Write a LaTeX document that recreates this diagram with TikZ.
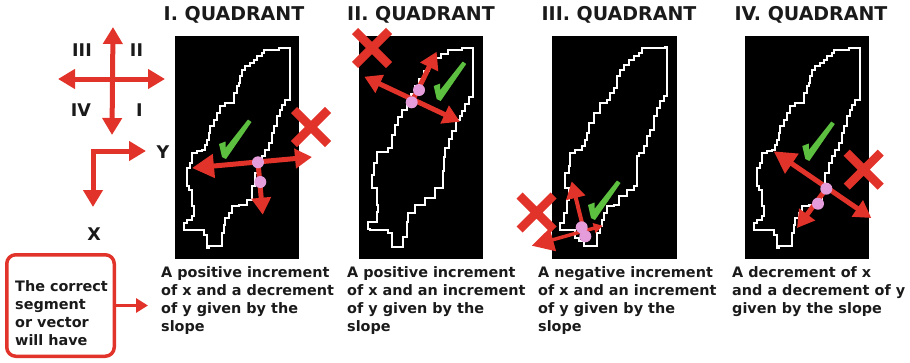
\documentclass[tikz,border=0pt]{standalone}
\usepackage{fontspec}
\setmainfont{DejaVu Sans}
\usepackage{tikz}
\usetikzlibrary{arrows.meta}

\definecolor{vecred}{HTML}{E2332A}
\definecolor{okgreen}{HTML}{5CBF3F}
\definecolor{dotpink}{HTML}{E49CDB}
\definecolor{ink}{HTML}{1A1A1A}

\tikzset{
  Head/.tip={Triangle[length=17pt,width=19pt]},
  BigHead/.tip={Triangle[length=22pt,width=23pt]},
  SmallHead/.tip={Triangle[length=9pt,width=10pt]},
  NoteHead/.tip={Triangle[length=12pt,width=14pt]},
  vec/.style={vecred, line width=5pt},
  dot/.style={circle, fill=dotpink, minimum size=12pt, inner sep=0pt},
  cell/.style={fill=black},
  rim/.style={white, line width=1.8pt, line join=miter},
  title/.style={font=\fontsize{19}{23}\selectfont\bfseries, text=ink, anchor=base, inner sep=0pt},
  caption/.style={font=\fontsize{14.4}{18}\selectfont\bfseries, text=ink, align=left, anchor=north west, inner sep=0pt},
  axislabel/.style={font=\fontsize{17.5}{20}\selectfont\bfseries, text=ink},
  notebox/.style={draw=vecred, line width=3.5pt, rounded corners=9pt, minimum width=107.5pt, minimum height=101.5pt},
  % red cross and green tick
  wrongmark/.pic={\draw[vecred, line width=8.5pt] (-17,-17) -- (17,17) (-17,17) -- (17,-17);},
  okmark/.pic={\fill[okgreen] (-1,2) -- (24.5,-35) -- (21,-37.5) -- (-1.5,-9) -- (-1.5,-15.5) -- (-8,-13) -- (-5,0) -- cycle;},
  % the three outlines, corner of the frame at (0,0)
  blobA/.pic={\draw[rim] (88.7,13.7) \foreach \p in {(103.7,12),(113.7,12),(115.3,63.7),(110.3,68.7),(107,73.7),(105.3,80.3),(102,90.3),(98.7,97),(97,107),(93.7,113.7),(90.3,120.3),(87,127),(83.7,137),(80.3,150.3),(77,163.7),(72,168.7),(63.7,170.3),(57,177),(53.7,182),(50.3,188.7),(48.7,197),(47,210.3),(33.7,212),(32,198.7),(28.7,193.7),(10.3,193.7),(8.7,187),(12,183.7),(17,180.3),(18.7,170.3),(17,153.7),(13.7,150.3),(12,143.7),(12,132),(15.3,127),(17,117),(22,115.3),(27,113.7),(30.3,108.7),(32,103.7),(33.7,97),(35.3,90.3),(38.7,83.7),(42,77),(45.3,70.3),(50.3,67),(55.3,67),(58.7,60.3),(58.7,57),(62,50.3),(63.7,47),(65.3,40.3),(67,33.7),(70.3,30.3),(75.3,27),(78.7,23.7),(82,20.3),(87,17),(88.7,13.7)} { -| \p } -- cycle;},
  blobB/.pic={\draw[rim] (89.3,14) \foreach \p in {(102.7,12.3),(114.3,12.3),(114.3,60.7),(110,68),(106,75),(103,80),(101,84),(97,95),(93,103),(90,112),(86,120.7),(85,135),(84.3,152.3),(76,162.3),(66,169),(56,177.3),(49.3,185.7),(47.7,200.7),(44.3,210.7),(34.3,210.7),(32.7,197.3),(29.3,194),(11,193),(9.3,185.7),(17.7,175.7),(19.3,169),(17.7,152.3),(12.7,147.3),(12.7,139),(15,127),(17.7,115.7),(29.3,112.3),(32.7,99),(36,89),(39.3,80.7),(43,74),(47.7,67.3),(52,58),(56,50),(60,43),(65,35),(70,28),(76,22),(82,18),(89.3,14)} { -| \p } -- cycle;},
  blobC/.pic={\draw[rim] (90,12) \foreach \p in {(113.3,11),(115,60.3),(111.7,65.3),(108.3,72),(105,80.3),(101.7,93.7),(98.3,100.3),(95,110.3),(91.7,117),(86.7,120.3),(85,150.3),(81.7,153.7),(75,160.3),(66.7,168.7),(61.7,170.3),(55,177),(51.7,183.7),(50,190.3),(48.3,197),(45,202),(45,210.3),(33.3,210.3),(31.7,205.3),(26.7,202),(23.3,193.7),(10,193.7),(8.3,187),(11.7,177),(15,163.7),(16.7,152),(13.3,143.7),(13.3,137),(16.7,130.3),(18.3,117),(23.3,113.7),(30,110.3),(33.3,103.7),(35,97),(36.7,87),(41.7,77),(48.3,67),(55,63.7),(58.3,60.3),(58.3,57),(61.7,52),(65,40.3),(68.3,33.7),(71.7,28.7),(76.7,23.7),(81.7,20.3),(86.7,17),(90,12)} { -| \p } -- cycle;},
}

\begin{document}
\begin{tikzpicture}[x=1pt,y=-1pt]
\useasboundingbox (0,0) rectangle (910,362);

% quadrant cross
\coordinate (cN) at (113,27);
\coordinate (cS) at (112,135);
\coordinate (cW) at (58,79);
\coordinate (cE) at (165,79);
\draw[vec, Head-Head] (cN) -- (cS);
\draw[vec, Head-Head] (cW) -- (cE);
\node[axislabel] (qIII) at (82,50) {III};
\node[axislabel] (qII) at (136.5,50) {II};
\node[axislabel] (qIV) at (81,110) {IV};
\node[axislabel] (qI) at (139.5,110) {I};

% x goes down, y goes right
\coordinate (ax) at (93,207);
\coordinate (ay) at (146,151);
\draw[vec, line join=miter, Head-Head] (ax) |- (ay);
\node[axislabel] (lx) at (94,234) {X};
\node[axislabel] (ly) at (163,152) {Y};

% note box
\node[notebox] (note) at (60.5,305.5) {};
\node[caption] (notetext) at (15,280) {The correct\\segment\\or vector\\will have};
\coordinate (notetip) at (148,305.5);
\draw[vecred, line width=3.5pt, -NoteHead] (note.east) -- (notetip);

% frames and outlines
\fill[cell] (175,36) rectangle ++(124,223);
\fill[cell] (359,36) rectangle ++(124,223);
\fill[cell] (552,36) rectangle ++(125,223);
\fill[cell] (745,36) rectangle ++(124,223);
\pic at (175,36) {blobA};
\pic at (359,36) {blobB};
\pic at (552,36) {blobC};
\pic at (745,36) {blobA};

% titles
\node[title] (h1) at (234,20.8) {I. QUADRANT};
\node[title] (h2) at (421,20.8) {II. QUADRANT};
\node[title] (h3) at (619,20.8) {III. QUADRANT};
\node[title] (h4) at (811,20.8) {IV. QUADRANT};

% captions
\node[caption] (c1) at (161,266.5) {A positive increment\\of x and a decrement\\of y given by the\\slope};
\node[caption] (c2) at (347,266.5) {A positive increment\\of x and an increment\\of y given by the\\slope};
\node[caption] (c3) at (538,266.5) {A negative increment\\of x and an increment\\of y given by the\\slope};
\node[caption] (c4) at (732,266.5) {A decrement of x\\and a decrement of y\\given by the slope};

% I.
\coordinate (p1a) at (258,162.3);
\coordinate (p1b) at (260.3,182);
\coordinate (t1l) at (192,168);
\coordinate (t1r) at (312,157);
\coordinate (t1d) at (262.7,214.7);
\draw[vec, BigHead-Head] (t1l) -- (t1r);
\draw[vec, -Head] (p1a) -- (t1d);
\node[dot] (d1a) at (p1a) {};
\node[dot] (d1b) at (p1b) {};
\pic at (227,157) {okmark};
\pic at (311,127) {wrongmark};

% II.
\coordinate (p2a) at (411.7,102.3);
\coordinate (p2b) at (419,90);
\coordinate (t2l) at (364.3,76.7);
\coordinate (t2r) at (460,121.7);
\coordinate (t2u) at (436.7,51.7);
\draw[vec, Head-Head] (t2l) -- (t2r);
\draw[vec, -Head] (p2a) -- (t2u);
\node[dot] (d2a) at (p2a) {};
\node[dot] (d2b) at (p2b) {};
\pic at (441.7,99) {okmark};
\pic at (372,48) {wrongmark};

% III.
\coordinate (p3a) at (581.7,227.3);
\coordinate (p3b) at (585.3,236.3);
\coordinate (t3u) at (571.7,181.3);
\coordinate (t3l) at (531.7,245.7);
\coordinate (t3r) at (602.7,225.7);
\draw[vec, line width=4pt, -Head] (p3b) -- (t3u);
\draw[vec, line width=3.5pt, BigHead-SmallHead] (t3l) -- (t3r);
\node[dot] (d3a) at (p3a) {};
\node[dot] (d3b) at (p3b) {};
\pic at (596,218) {okmark};
\pic at (536.5,212.5) {wrongmark};

% IV.
\coordinate (p4a) at (826.3,188.7);
\coordinate (p4b) at (818,203.7);
\coordinate (t4l) at (773.7,151.3);
\coordinate (t4r) at (871.3,218);
\coordinate (t4d) at (797,228);
\draw[vec, BigHead-Head] (t4l) -- (t4r);
\draw[vec, -Head] (p4a) -- (t4d);
\node[dot] (d4a) at (p4a) {};
\node[dot] (d4b) at (p4b) {};
\pic at (810.3,159) {okmark};
\pic at (863.7,169.7) {wrongmark};

\end{tikzpicture}
\end{document}
